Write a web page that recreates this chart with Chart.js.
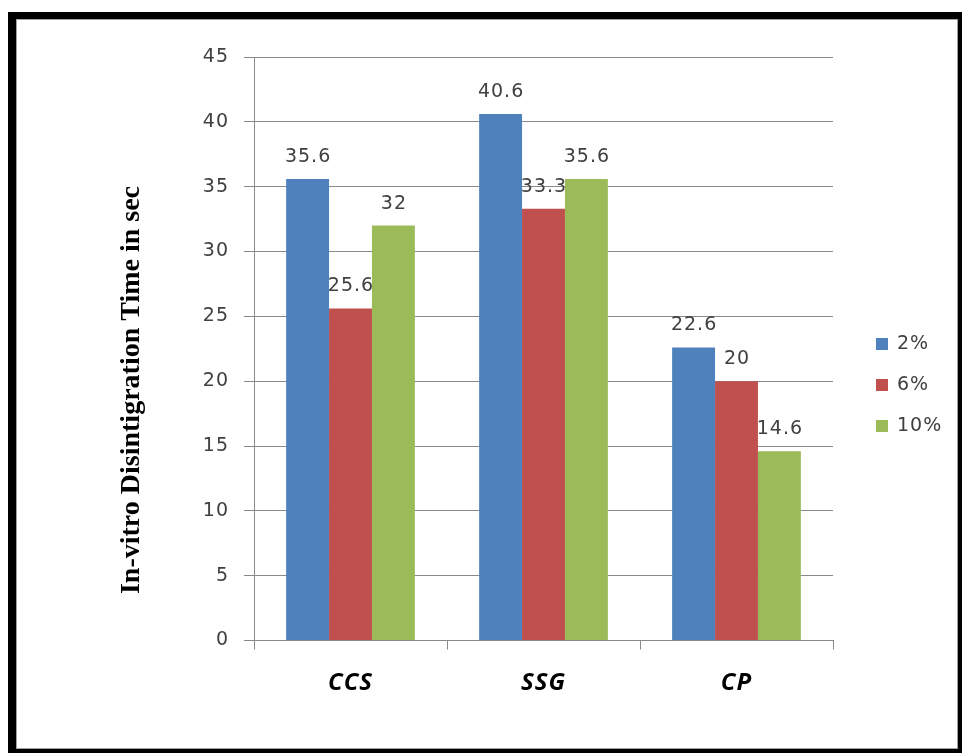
<!DOCTYPE html>
<html>
<head>
<meta charset="utf-8">
<script src="https://cdn.jsdelivr.net/npm/chart.js@4.4.1/dist/chart.umd.min.js"></script>
<style>
  html, body { margin: 0; padding: 0; background: #fff; }
  #wrap { position: relative; width: 962px; height: 753px; overflow: hidden; }
  #frame {
    position: absolute; left: 8px; top: 12px; width: 954px; height: 741px;
    box-sizing: border-box; border-style: solid; border-color: #000;
    border-width: 7px 4px 4px 8px;
  }
  #frame::after { content: ''; position: absolute; inset: 0; border: 1px solid #a0a0a0; }
  #chart { position: absolute; left: 0; top: 0; }
</style>
</head>
<body>
<div id="wrap">
  <div id="frame"></div>
  <canvas id="chart" width="962" height="753"></canvas>
</div>
<script>
// Disintegration time (seconds) by superdisintegrant and concentration
const categories = ['CCS', 'SSG', 'CP'];
const seriesNames = ['2%', '6%', '10%'];
const values2pct = [35.6, 40.6, 22.6];
const values6pct = [25.6, 33.3, 20];
const values10pct = [32, 35.6, 14.6];
const seriesColors = ['#4F81BD', '#C0504D', '#9BBB59'];
const yMin = 0, yMax = 45, yStep = 5;
const yTitle = 'In-vitro Disintigration Time in sec';

const GRID = '#8a8a8a';
const TEXT = '#404040';
const NUM_FONT = '"DejaVu Sans", Verdana, sans-serif';

// Slightly open letter spacing for all chart text
const textSpacing = {
  id: 'textSpacing',
  beforeDraw(chart) { chart.ctx.letterSpacing = '1px'; }
};

// Value printed above each bar
const valueLabels = {
  id: 'valueLabels',
  afterDatasetsDraw(chart) {
    const ctx = chart.ctx;
    ctx.save();
    ctx.letterSpacing = '1px';
    ctx.font = '19px ' + NUM_FONT;
    ctx.fillStyle = TEXT;
    ctx.textAlign = 'center';
    ctx.textBaseline = 'middle';
    chart.data.datasets.forEach((ds, di) => {
      chart.getDatasetMeta(di).data.forEach((bar, i) => {
        ctx.fillText(String(ds.data[i]), bar.x + 0.5, bar.y - 22);
      });
    });
    ctx.restore();
  }
};

// Rotated axis title at the left
const axisTitle = {
  id: 'axisTitle',
  afterDraw(chart) {
    const ctx = chart.ctx;
    ctx.save();
    ctx.letterSpacing = '0px';
    ctx.translate(132, 390);
    ctx.rotate(-Math.PI / 2);
    ctx.font = 'bold 28px "Liberation Serif", "Times New Roman", serif';
    ctx.fillStyle = '#000';
    ctx.textAlign = 'center';
    ctx.textBaseline = 'middle';
    ctx.fillText(yTitle, 0, 0);
    ctx.restore();
  }
};

// Square-swatch legend on the right
const sideLegend = {
  id: 'sideLegend',
  afterDraw(chart) {
    const ctx = chart.ctx;
    ctx.save();
    ctx.letterSpacing = '1px';
    ctx.font = '19px ' + NUM_FONT;
    ctx.textBaseline = 'middle';
    ctx.textAlign = 'left';
    chart.data.datasets.forEach((ds, i) => {
      const cy = 344 + i * 41;
      ctx.fillStyle = ds.backgroundColor;
      ctx.fillRect(876, cy - 6, 12, 12);
      ctx.fillStyle = TEXT;
      ctx.fillText(ds.label, 897, cy);
    });
    ctx.restore();
  }
};

new Chart(document.getElementById('chart'), {
  type: 'bar',
  data: {
    labels: categories,
    datasets: [
      { label: seriesNames[0], data: values2pct, backgroundColor: seriesColors[0] },
      { label: seriesNames[1], data: values6pct, backgroundColor: seriesColors[1] },
      { label: seriesNames[2], data: values10pct, backgroundColor: seriesColors[2] }
    ]
  },
  options: {
    responsive: false,
    animation: false,
    devicePixelRatio: 1,
    layout: { padding: { left: 0, top: 57, right: 129, bottom: 0 } },
    datasets: { bar: { categoryPercentage: 0.667, barPercentage: 1, borderWidth: 0 } },
    plugins: { legend: { display: false }, tooltip: { enabled: false }, title: { display: false } },
    scales: {
      x: {
        grid: { drawOnChartArea: false, drawTicks: true, tickLength: 9, color: GRID, offset: true },
        border: { color: GRID },
        ticks: {
          color: '#000', padding: 19,
          font: { family: '"Open Sans", sans-serif', size: 24, style: 'italic', weight: 'bold' }
        },
        afterFit(scale) { scale.height = 112.5; }
      },
      y: {
        min: yMin, max: yMax,
        grid: { color: GRID, tickLength: 10 },
        border: { color: GRID },
        ticks: {
          stepSize: yStep, color: TEXT, padding: 15,
          font: { family: NUM_FONT, size: 19 }
        },
        afterFit(scale) { scale.width = 254; }
      }
    }
  },
  plugins: [textSpacing, valueLabels, axisTitle, sideLegend]
});
</script>
</body>
</html>
